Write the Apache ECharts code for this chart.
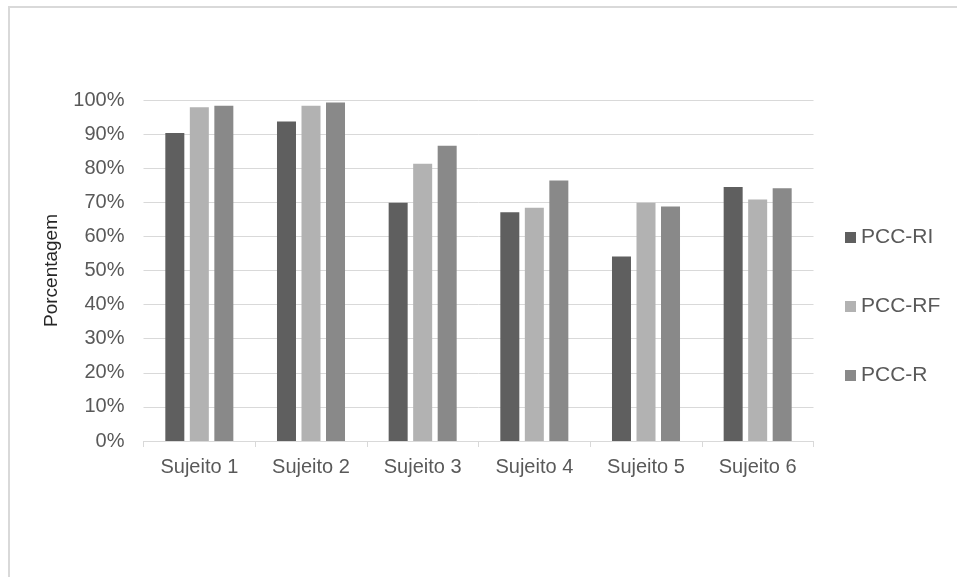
<!DOCTYPE html>
<html>
<head>
<meta charset="utf-8">
<script src="https://cdn.jsdelivr.net/npm/echarts@6/dist/echarts.min.js"></script>
<style>
  html, body { margin: 0; padding: 0; background: #ffffff; }
  #chart { width: 957px; height: 577px; }
</style>
</head>
<body>
<div id="chart"></div>
<script>
// Subjects on the x axis
const categories = ['Sujeito 1', 'Sujeito 2', 'Sujeito 3', 'Sujeito 4', 'Sujeito 5', 'Sujeito 6'];

// Percentages per series
const pccRI = [90.3, 93.7, 69.9, 67.1, 54.1, 74.5];
const pccRF = [97.9, 98.3, 81.3, 68.4, 69.9, 70.8];
const pccR  = [98.3, 99.3, 86.6, 76.4, 68.8, 74.1];

const seriesNames = ['PCC-RI', 'PCC-RF', 'PCC-R'];
const seriesColors = ['#5f5f5f', '#b2b2b2', '#898989'];

const FONT = '"Liberation Sans", Arial, sans-serif';

const chart = echarts.init(document.getElementById('chart'), null, { renderer: 'canvas' });

const makeBar = (name, data, color) => ({
  name: name,
  type: 'bar',
  data: data,
  barWidth: 19,
  barGap: '29%',
  itemStyle: { color: color },
  emphasis: { disabled: true }
});

chart.setOption({
  animation: false,
  backgroundColor: '#ffffff',
  textStyle: { fontFamily: FONT },
  graphic: [{
    type: 'rect',
    shape: { x: 9, y: 7, width: 1200, height: 1000 },
    style: { fill: 'none', stroke: '#d9d9d9', lineWidth: 2 },
    silent: true
  }],
  grid: { left: 143.5, right: 143.5, top: 100, bottom: 136, containLabel: false },
  legend: {
    orient: 'vertical',
    left: 840,
    top: 222,
    padding: 5,
    itemWidth: 11,
    itemHeight: 11,
    itemGap: 48,
    icon: 'rect',
    data: seriesNames,
    textStyle: { fontFamily: FONT, fontSize: 21, color: '#595959', lineHeight: 21 },
    selectedMode: false
  },
  xAxis: {
    type: 'category',
    data: categories,
    axisLine: { show: true, lineStyle: { color: '#d9d9d9', width: 1 } },
    axisTick: { show: true, alignWithLabel: false, length: 6, lineStyle: { color: '#d9d9d9' } },
    axisLabel: { fontFamily: FONT, fontSize: 20, color: '#595959', margin: 16 }
  },
  yAxis: {
    type: 'value',
    min: 0,
    max: 100,
    interval: 10,
    name: 'Porcentagem',
    nameLocation: 'middle',
    nameGap: 82,
    nameRotate: 90,
    nameTextStyle: { fontFamily: FONT, fontSize: 19, color: '#262626' },
    axisLine: { show: false },
    axisTick: { show: false },
    splitLine: { show: true, lineStyle: { color: '#d9d9d9', width: 1 } },
    axisLabel: { fontFamily: FONT, fontSize: 20, color: '#595959', margin: 19, formatter: '{value}%' }
  },
  series: [
    makeBar(seriesNames[0], pccRI, seriesColors[0]),
    makeBar(seriesNames[1], pccRF, seriesColors[1]),
    makeBar(seriesNames[2], pccR, seriesColors[2])
  ]
});
</script>
</body>
</html>
